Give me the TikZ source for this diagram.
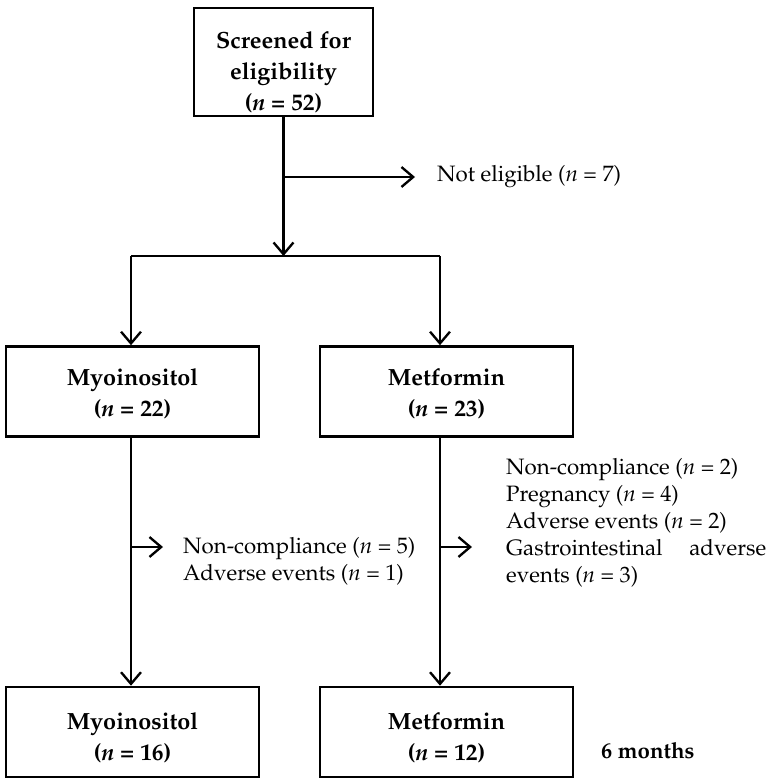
\documentclass[tikz,border=0pt]{standalone}
\usepackage[T1]{fontenc}
\usepackage{mathpazo}
\usetikzlibrary{arrows.meta,positioning,calc}

\begin{document}
\begin{tikzpicture}[x=0.03cm,y=-0.03cm, line width=2pt,
	>={Straight Barb[length=10pt,width=17pt,line width=2pt]},
	box_node/.style={draw,line width=2.2pt,minimum width=7.59cm,minimum height=2.7cm,inner sep=0pt},
	box_text/.style={inner sep=0pt,align=center,font=\fontsize{20}{26.5}\selectfont\bfseries},
	note_node/.style={inner sep=0pt,align=left,font=\fontsize{19}{23}\selectfont}]
	
	\useasboundingbox (0,0) rectangle (773,783);
	
	\node[box_node, minimum width=5.37cm, minimum height=3.24cm] (screen) at (283.5,62) {};
	\node[box_text] (screen_txt) at ($(screen.center)+(0,10)$) {Screened for\\eligibility\\(\textit{n} = 52)};
	\node[note_node, anchor=west] (noteligible) at (436,177) {Not eligible (\textit{n} = 7)};
	
	\node[box_node] (myo) at (132.5,391.5) {};
	\node[box_text] (myo_txt) at ($(myo.center)+(0,2)$) {Myoinositol\\(\textit{n} = 22)};
	\node[box_node] (met) at (446.5,391.5) {};
	\node[box_text] (met_txt) at ($(met.center)+(0,2)$) {Metformin\\(\textit{n} = 23)};
	
	\node[note_node, anchor=west] (dropl) at (182,561) {Non-compliance (\textit{n} = 5)\\Adverse events (\textit{n} = 1)};
	\node[note_node, anchor=west, text width=7.8cm, align=justify] (dropr) at (505,523) {\hyphenpenalty=10000 Non-compliance (\textit{n} = 2)\\Pregnancy (\textit{n} = 4)\\Adverse events (\textit{n} = 2)\\Gastrointestinal adverse events (\textit{n} = 3)};
	
	\node[box_node] (myo16) at (132.5,732) {};
	\node[box_text] (myo16_txt) at ($(myo16.center)+(0,6)$) {Myoinositol\\(\textit{n} = 16)};
	\node[box_node] (met12) at (446.5,732) {};
	\node[box_text] (met12_txt) at ($(met12.center)+(0,6)$) {Metformin\\(\textit{n} = 12)};
	\node[note_node, anchor=west, font=\fontsize{19}{23}\selectfont\bfseries] (months) at (600,751) {6 months};
	
	\coordinate (split_top) at (screen.south |- noteligible.west);
	\coordinate (split_l) at (131,256);
	\coordinate (split_r) at (440,256);
	\coordinate (branch_l) at (131,547);
	\coordinate (branch_r) at (440,547);
	
	\draw (screen.south) -- (split_top);
	\draw[->, shorten >=0.63cm] (split_top) -- (noteligible.west);
	\draw[->] (split_top) -- (split_top |- split_l);
	\draw (split_l) -- (split_r);
	\draw[->] (split_l) -- (split_l |- myo.north);
	\draw[->] (split_r) -- (split_r |- met.north);
	
	\draw[->] (branch_l |- myo.south) -- (branch_l |- myo16.north);
	\draw[->] (branch_l) -- ++(32,0);
	\draw[->] (branch_r |- met.south) -- (branch_r |- met12.north);
	\draw[->] (branch_r) -- ++(32,0);
\end{tikzpicture}
\end{document}
